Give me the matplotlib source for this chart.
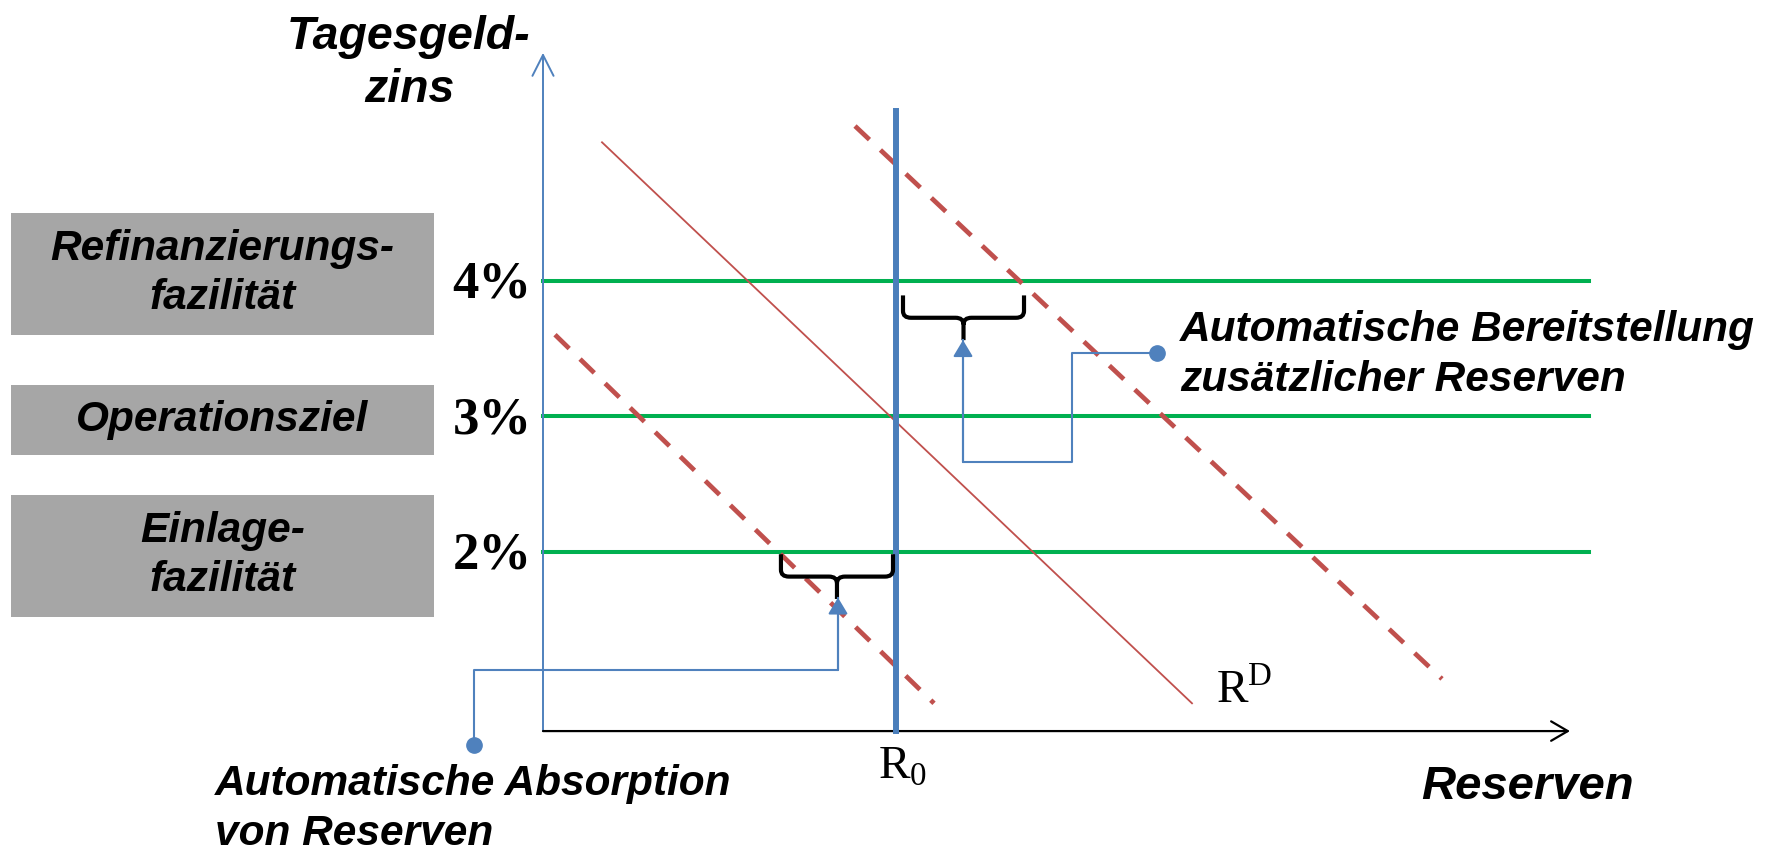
import numpy as np
import matplotlib.pyplot as plt
from matplotlib.path import Path
from matplotlib.patches import PathPatch, Rectangle

plt.rcParams['mathtext.fontset'] = 'custom'
plt.rcParams['mathtext.rm'] = 'Liberation Serif'

# interest rate levels (%) and their labels
rates = [2, 3, 4]
rate_labels = ['2%', '3%', '4%']
box_labels = ['Einlage-\nfazilität', 'Operationsziel', 'Refinanzierungs-\nfazilität']
box_bottom = [1.52, 2.71, 3.60]
box_top = [2.42, 3.23, 4.50]

# reserve position R0 and demand curves (x = reserves, y = rate)
r0 = 3.53
demand_x = [0.59, 6.49]
demand_r = [5.02, 0.88]
demand_low_x = [0.12, 3.91]
demand_low_r = [3.60, 0.88]
demand_high_x = [3.12, 8.99]
demand_high_r = [5.14, 1.06]

# axes extent
axis_r = 0.675
yaxis_top = 5.68
xaxis_end = 10.27
green_end = 10.46
r0_top = 5.25

# connector paths (dot -> arrow tip)
conn_up_x = [6.14, 5.29, 5.29, 4.20, 4.20]
conn_up_r = [3.465, 3.465, 2.66, 2.66, 3.56]
conn_low_x = [-0.69, -0.69, 2.95, 2.95]
conn_low_r = [0.572, 1.125, 1.125, 1.66]

BLUE = '#4F81BD'
BLUE_D = '#4A7EBB'
RED = '#C0504D'
GREEN = '#00B050'
GRAY = '#A6A6A6'
SANS = dict(family='Liberation Sans', weight='bold', style='italic')


def x_at(xs, rs, r):
    return xs[0] + (r - rs[0]) * (xs[1] - xs[0]) / (rs[1] - rs[0])


def brace(ax, x0, x1, ytop, depth, rx=0.08, ry=0.05):
    h = depth / 2
    xm = (x0 + x1) / 2
    yh = ytop - h
    verts = [(x0, ytop), (x0, yh + ry), (x0, yh), (x0 + rx, yh),
             (xm - rx, yh), (xm, yh), (xm, yh - ry), (xm, ytop - depth),
             (xm, yh - ry), (xm, yh), (xm + rx, yh),
             (x1 - rx, yh), (x1, yh), (x1, yh + ry), (x1, ytop)]
    codes = [Path.MOVETO, Path.LINETO, Path.CURVE3, Path.CURVE3,
             Path.LINETO, Path.CURVE3, Path.CURVE3, Path.LINETO,
             Path.MOVETO, Path.CURVE3, Path.CURVE3,
             Path.LINETO, Path.CURVE3, Path.CURVE3, Path.LINETO]
    ax.add_patch(PathPatch(Path(verts, codes), fill=False, lw=3.0,
                           edgecolor='black', capstyle='butt', zorder=5))


fig = plt.figure(figsize=(17.71, 8.51), dpi=100)
ax = fig.add_axes([0, 0, 1, 1])
ax.set_xlim(-5.43, 12.28)
ax.set_ylim(-0.21, 6.07)
ax.axis('off')

# gray boxes with labels
for lab, b, t in zip(box_labels, box_bottom, box_top):
    ax.add_patch(Rectangle((-5.32, b), 4.23, t - b, facecolor=GRAY,
                           edgecolor='none'))
    ax.text(-3.205, (b + t) / 2, lab, ha='center', va='center',
            multialignment='center', fontsize=30.5, linespacing=1.3, **SANS)

# rate lines + labels
for r, lab in zip(rates, rate_labels):
    ax.plot([0, green_end], [r, r], color=GREEN, lw=2.9, zorder=2)
    ax.text(-0.51, r - 0.03, lab, ha='center', va='center', fontsize=38,
            family='Liberation Serif', weight='bold')

# axes arrows
ax.annotate('', xy=(0, yaxis_top), xytext=(0, axis_r),
            arrowprops=dict(arrowstyle='->,head_length=0.75,head_width=0.38',
                            color=BLUE, lw=1.4, shrinkA=0, shrinkB=0,
                            mutation_scale=20))
ax.annotate('', xy=(xaxis_end, axis_r), xytext=(0, axis_r),
            arrowprops=dict(arrowstyle='->,head_length=0.6,head_width=0.35',
                            color='black', lw=1.6, shrinkA=0, shrinkB=0,
                            mutation_scale=20))

# demand curves
ax.plot(demand_x, demand_r, color=RED, lw=1.3, zorder=3)
ax.plot(demand_low_x, demand_low_r, color=RED, lw=3.4,
        linestyle=(0, (4.2, 3.2)), zorder=3)
ax.plot(demand_high_x, demand_high_r, color=RED, lw=3.4,
        linestyle=(0, (4.2, 3.2)), zorder=3)

# R0 line
ax.plot([r0, r0], [axis_r, r0_top], color=BLUE_D, lw=4.3, zorder=4)

# braces
brace(ax, r0 + 0.07, x_at(demand_high_x, demand_high_r, 4) + 0.05,
      4 - 0.11, 0.33)
brace(ax, x_at(demand_low_x, demand_low_r, 2) + 0.03, r0 - 0.03,
      2 - 0.02, 0.33)

# connectors
for cx, cr in [(conn_up_x, conn_up_r), (conn_low_x, conn_low_r)]:
    ax.plot(cx, cr, color=BLUE, lw=1.5, zorder=6)
    ax.plot(cx[0], cr[0], 'o', color=BLUE, ms=11, zorder=6)
    ax.annotate('', xy=(cx[-1], cr[-1]), xytext=(cx[-2], cr[-2]),
                arrowprops=dict(arrowstyle='-|>,head_length=0.5,head_width=0.3',
                                color=BLUE, lw=1.5, shrinkA=0, shrinkB=0,
                                mutation_scale=20), zorder=6)

# texts
ax.text(-1.34, 5.60, 'Tagesgeld-\nzins', ha='center', va='center',
        multialignment='center', fontsize=33.5, linespacing=1.25, **SANS)
ax.text(6.37, 3.45, 'Automatische Bereitstellung\nzusätzlicher Reserven',
        ha='left', va='center', fontsize=30.5, linespacing=1.3, **SANS)
ax.text(-3.28, 0.10, 'Automatische Absorption\nvon Reserven',
        ha='left', va='center', fontsize=30.5, linespacing=1.3, **SANS)
ax.text(9.84, 0.26, 'Reserven', ha='center', va='center', fontsize=34, **SANS)
ax.text(3.60, 0.42, r'$\mathrm{R}_{0}$', ha='center', va='center', fontsize=34)
ax.text(7.01, 0.98, r'$\mathrm{R}^{\mathrm{D}}$', ha='center', va='center',
        fontsize=34)

fig.savefig('out.png', dpi=100)
